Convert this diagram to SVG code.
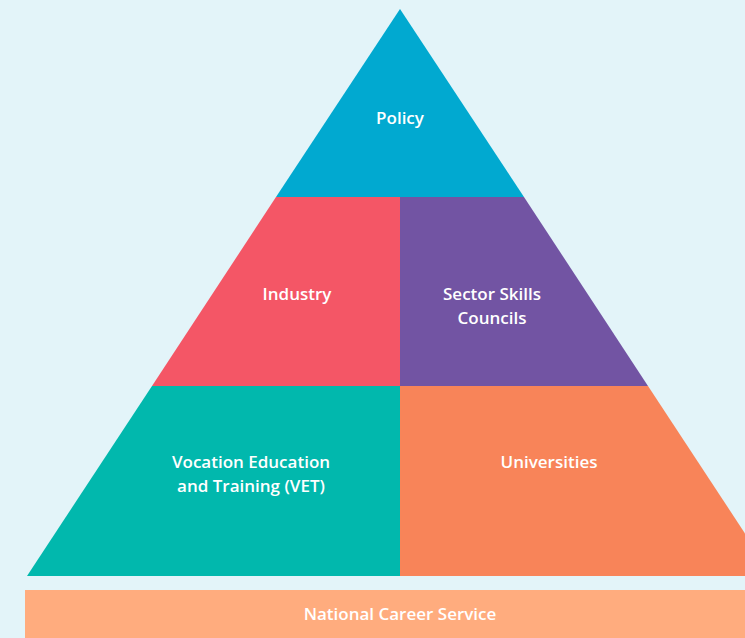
<svg xmlns="http://www.w3.org/2000/svg" width="745" height="638" viewBox="0 0 745 638">
<style>
.t{font-family:"Open Sans","Liberation Sans",sans-serif;font-weight:600;font-size:17px;fill:#ffffff;text-anchor:middle}
</style>
<rect width="745" height="638" fill="#E3F4F9"/>
<g id="policy">
<polygon points="400,9 524,197 276,197" fill="#01A9D0"/>
<text class="t" x="400" y="124">Policy</text>
</g>
<g id="industry">
<polygon points="276,197 400,197 400,386 152,386" fill="#F45666"/>
<text class="t" x="297" y="300">Industry</text>
</g>
<g id="sector-skills-councils">
<polygon points="400,197 524,197 648,386 400,386" fill="#7254A3"/>
<text class="t" x="492" y="300">Sector Skills</text>
<text class="t" x="492" y="324">Councils</text>
</g>
<g id="vet">
<polygon points="152,386 400,386 400,576 27,576" fill="#01B8AD"/>
<text class="t" x="251" y="468">Vocation Education</text>
<text class="t" x="251" y="492">and Training (VET)</text>
</g>
<g id="universities">
<polygon points="400,386 648,386 773,576 400,576" fill="#F88459"/>
<text class="t" x="549" y="468">Universities</text>
</g>
<g id="national-career-service">
<rect x="25" y="590" width="730" height="48" fill="#FFAC7E"/>
<text class="t" x="400" y="620">National Career Service</text>
</g>
<g id="connectors"></g>
</svg>
